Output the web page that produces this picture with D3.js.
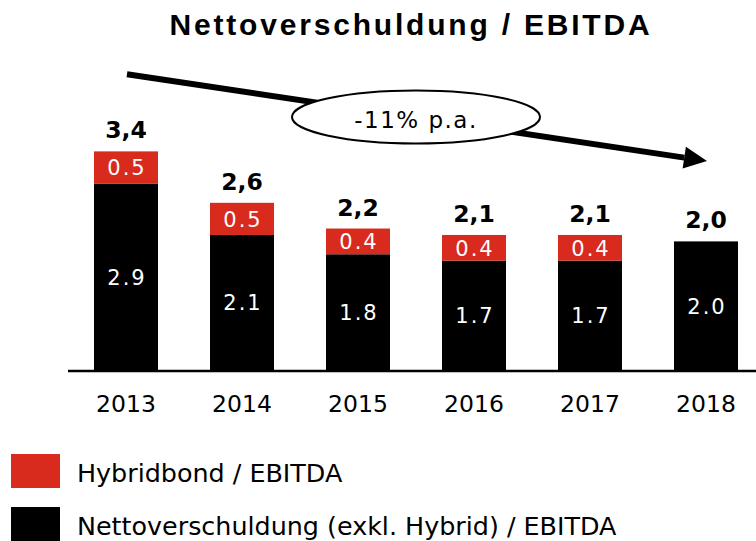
<!DOCTYPE html>
<html>
<head>
<meta charset="utf-8">
<script src="https://cdn.jsdelivr.net/npm/d3@7"></script>
<style>
  html, body { margin: 0; padding: 0; background: #fff; }
  svg { display: block; }
</style>
</head>
<body>
<div id="chart"></div>
<script>
const years = ['2013', '2014', '2015', '2016', '2017', '2018'];
const netDebt = [2.9, 2.1, 1.8, 1.7, 1.7, 2.0];
const hybrid = [0.5, 0.5, 0.4, 0.4, 0.4, 0];
const seriesNames = ['Hybridbond / EBITDA', 'Nettoverschuldung (exkl. Hybrid) / EBITDA'];
const trendLabel = '-11% p.a.';
const title = 'Nettoverschuldung / EBITDA';

const width = 756;
const height = 541;
const baseY = 370;
const red = '#d92a1e';

const svg = d3
  .select('#chart')
  .append('svg')
  .attr('width', width)
  .attr('height', height)
  .attr('viewBox', [0, 0, width, height]);

const x = d3
  .scaleBand()
  .domain(years)
  .range([68, 764])
  .paddingInner(0.4483)
  .paddingOuter(0.2241);

const y = d3.scaleLinear().domain([0, 5]).range([baseY, 48.5]);

const rows = years.map((yr, i) => ({
  year: yr,
  net: netDebt[i],
  hyb: hybrid[i],
  total: Math.round((netDebt[i] + hybrid[i]) * 10) / 10,
}));

// title
svg
  .append('text')
  .attr('x', 411)
  .attr('y', 35)
  .attr('text-anchor', 'middle')
  .style('font-family', '"Liberation Sans", Arial, sans-serif')
  .style('font-weight', 'bold')
  .style('font-size', '30px')
  .style('letter-spacing', '2.8px')
  .text(title);

// bars
const bars = svg.append('g');
bars
  .selectAll('rect.net')
  .data(rows)
  .join('rect')
  .attr('class', 'net')
  .attr('x', (d) => x(d.year))
  .attr('width', x.bandwidth())
  .attr('y', (d) => y(d.net))
  .attr('height', (d) => y(0) - y(d.net))
  .attr('fill', '#000');

bars
  .selectAll('rect.hyb')
  .data(rows.filter((d) => d.hyb > 0))
  .join('rect')
  .attr('class', 'hyb')
  .attr('x', (d) => x(d.year))
  .attr('width', x.bandwidth())
  .attr('y', (d) => y(d.net + d.hyb))
  .attr('height', (d) => y(d.net) - y(d.net + d.hyb))
  .attr('fill', red);

const inner = { 'font-family': '"DejaVu Sans", Verdana, sans-serif', 'font-size': '21px' };

// values inside bars
const valueText = (sel) =>
  sel
    .attr('text-anchor', 'middle')
    .attr('fill', '#fff')
    .style('font-family', inner['font-family'])
    .style('font-size', inner['font-size'])
    .style('letter-spacing', '2px');

bars
  .selectAll('text.netv')
  .data(rows)
  .join('text')
  .attr('class', 'netv')
  .attr('x', (d) => x(d.year) + x.bandwidth() / 2 + 1)
  .attr('y', (d) => (y(0) + y(d.net)) / 2 + 8)
  .call(valueText)
  .text((d) => d.net.toFixed(1));

bars
  .selectAll('text.hybv')
  .data(rows.filter((d) => d.hyb > 0))
  .join('text')
  .attr('class', 'hybv')
  .attr('x', (d) => x(d.year) + x.bandwidth() / 2 + 1)
  .attr('y', (d) => (y(d.net) + y(d.net + d.hyb)) / 2 + 8)
  .call(valueText)
  .text((d) => d.hyb.toFixed(1));

// totals above bars
bars
  .selectAll('text.tot')
  .data(rows)
  .join('text')
  .attr('class', 'tot')
  .attr('x', (d) => x(d.year) + x.bandwidth() / 2)
  .attr('y', (d) => y(d.net + d.hyb) - 13)
  .attr('text-anchor', 'middle')
  .style('font-family', '"DejaVu Sans", Verdana, sans-serif')
  .style('font-weight', 'bold')
  .style('font-size', '23.5px')
  .text((d) => d.total.toFixed(1).replace('.', ','));

// x axis
const gx = svg.append('g').attr('transform', `translate(0,${baseY + 1})`);
gx.call(d3.axisBottom(x).tickSize(0).tickPadding(24));
gx.select('.domain').attr('d', `M68,0H${width}`).attr('stroke', '#000').attr('stroke-width', 2.5);
gx.selectAll('.tick text')
  .attr('fill', '#000')
  .style('font-family', '"DejaVu Sans", Verdana, sans-serif')
  .style('font-size', '23.5px');

// trend arrow
const x0 = x('2013') + x.bandwidth() / 2 + 1;
const x1 = x('2018') + x.bandwidth() / 2 + 1;
const ay0 = y(4.6);
const ay1 = y(3.25);
const ang = Math.atan2(ay1 - ay0, x1 - x0);
const headLen = 23;
const headW = 11;
const bx = x1 - headLen * Math.cos(ang);
const by = ay1 - headLen * Math.sin(ang);

svg
  .append('line')
  .attr('x1', x0)
  .attr('y1', ay0)
  .attr('x2', bx)
  .attr('y2', by)
  .attr('stroke', '#000')
  .attr('stroke-width', 6);

svg
  .append('polygon')
  .attr(
    'points',
    [
      [x1, ay1],
      [bx - headW * Math.sin(ang), by + headW * Math.cos(ang)],
      [bx + headW * Math.sin(ang), by - headW * Math.cos(ang)],
    ].join(' '),
  )
  .attr('fill', '#000');

const ex = (x('2015') + x('2016') + x.bandwidth()) / 2;
const ey = 117;
svg
  .append('ellipse')
  .attr('cx', ex)
  .attr('cy', ey)
  .attr('rx', 124)
  .attr('ry', 26.5)
  .attr('fill', '#fff')
  .attr('stroke', '#000')
  .attr('stroke-width', 2);

svg
  .append('text')
  .attr('x', ex)
  .attr('y', ey + 11)
  .attr('text-anchor', 'middle')
  .style('font-family', '"DejaVu Sans", Verdana, sans-serif')
  .style('font-size', '23px')
  .style('letter-spacing', '1.5px')
  .text(trendLabel);

// legend
const legend = svg
  .append('g')
  .selectAll('g')
  .data(seriesNames)
  .join('g')
  .attr('transform', (d, i) => `translate(11,${454 + i * 53})`);

legend
  .append('rect')
  .attr('width', 49)
  .attr('height', 34)
  .attr('fill', (d, i) => (i === 0 ? red : '#000'));

legend
  .append('text')
  .attr('x', 66)
  .attr('y', 28)
  .style('font-family', '"DejaVu Sans", Verdana, sans-serif')
  .style('font-size', '25.4px')
  .text((d) => d);
</script>
</body>
</html>
